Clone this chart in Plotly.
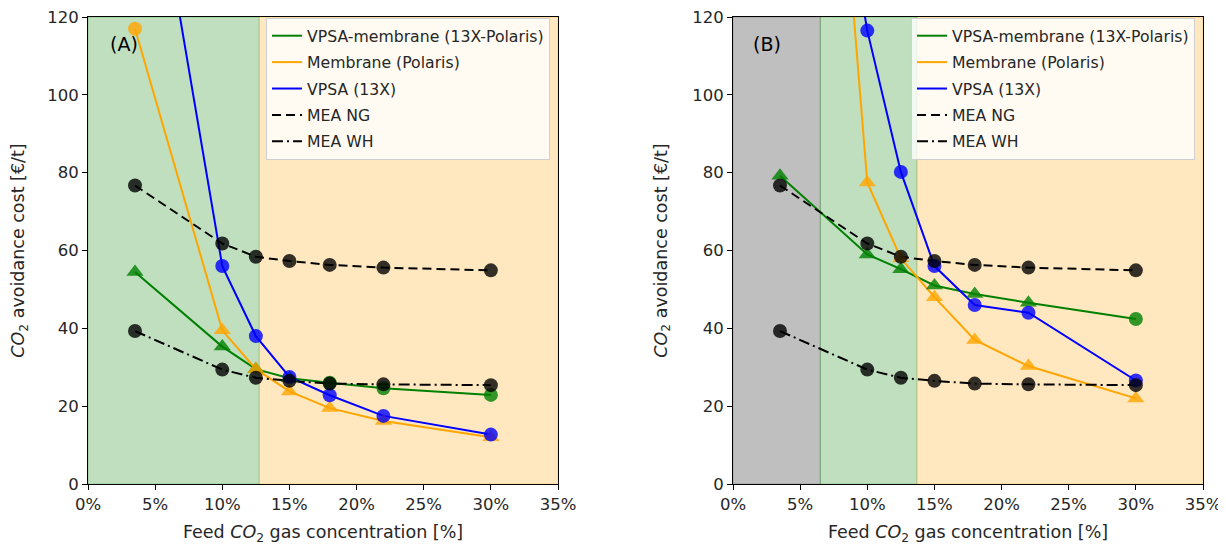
import plotly.graph_objects as go

# ---------------- data ----------------
conc = [3.5, 10, 12.5, 15, 18, 22, 30]  # feed CO2 concentration [%]

mea_ng = [76.7, 61.8, 58.4, 57.3, 56.3, 55.6, 54.9]
mea_wh = [39.3, 29.4, 27.3, 26.5, 25.8, 25.6, 25.4]

# Panel A
hyb_A = [54.5, 35.3, 29.5, 27.2, 26.0, 24.6, 22.9]
hyb_A_sym = ["triangle-up", "triangle-up", "triangle-up", "triangle-up", "circle", "circle", "circle"]
mem_A = [117.0, 39.5, 29.5, 23.8, 19.5, 16.2, 12.0]
mem_A_sym = ["circle", "triangle-up", "triangle-up", "triangle-up", "triangle-up", "triangle-up", "triangle-up"]
vpsa_A = [188.0, 56.0, 38.0, 27.5, 22.8, 17.5, 12.7]

# Panel B
hyb_B = [79.2, 59.0, 55.2, 51.0, 48.8, 46.6, 42.4]
hyb_B_sym = ["triangle-up"] * 6 + ["circle"]
mem_B = [354.0, 77.5, 58.0, 48.0, 37.0, 30.3, 22.0]
mem_B_sym = ["triangle-up"] * 7
vpsa_B = [250.0, 116.5, 80.2, 56.0, 46.0, 44.0, 26.6]

x_ticks = [0, 5, 10, 15, 20, 25, 30, 35]
x_tick_text = ["0%", "5%", "10%", "15%", "20%", "25%", "30%", "35%"]
y_ticks = [0, 20, 40, 60, 80, 100, 120]

# shaded regions [x0, x1, colour]
regions_A = [(0, 12.75, "rgba(0,128,0,0.25)"), (12.75, 35, "rgba(255,165,0,0.25)")]
regions_B = [(0, 6.5, "rgba(128,128,128,0.5)"), (6.5, 13.7, "rgba(0,128,0,0.25)"),
             (13.7, 35, "rgba(255,165,0,0.25)")]

names = ["VPSA-membrane (13X-Polaris)", "Membrane (Polaris)", "VPSA (13X)", "MEA NG", "MEA WH"]

GREEN = "rgb(0,128,0)"
ORANGE = "rgb(255,165,0)"
BLUE = "rgb(0,0,255)"
BLACK = "black"

fig = go.Figure()
FONT = "DejaVu Sans"
TXT = "#262626"


def add_panel(xa, ya, legend, hyb, hyb_sym, mem, mem_sym, vpsa):
    series = [
        (hyb, GREEN, "solid"),
        (mem, ORANGE, "solid"),
        (vpsa, BLUE, "solid"),
        (mea_ng, BLACK, "9px,5px"),
        (mea_wh, BLACK, "11px,4px,2px,4px"),
    ]
    for i, (vals, col, dash) in enumerate(series):
        fig.add_trace(go.Scatter(
            x=conc, y=vals, mode="lines", name=names[i],
            line=dict(color=col, width=2, dash=dash),
            xaxis=xa, yaxis=ya, legend=legend, legendgroup=legend + str(i),
            showlegend=True, cliponaxis=True))
    marks = [
        (hyb, GREEN, hyb_sym),
        (mem, ORANGE, mem_sym),
        (vpsa, BLUE, ["circle"] * 7),
        (mea_ng, BLACK, ["circle"] * 7),
        (mea_wh, BLACK, ["circle"] * 7),
    ]
    for vals, col, sym in marks:
        fig.add_trace(go.Scatter(
            x=conc, y=vals, mode="markers", showlegend=False,
            marker=dict(color=col, size=[15 if s.startswith("tri") else 14 for s in sym],
                        symbol=sym, opacity=0.8, line=dict(width=0)),
            xaxis=xa, yaxis=ya, hoverinfo="skip", cliponaxis=True))


add_panel("x", "y", "legend", hyb_A, hyb_A_sym, mem_A, mem_A_sym, vpsa_A)
add_panel("x2", "y2", "legend2", hyb_B, hyb_B_sym, mem_B, mem_B_sym, vpsa_B)

shapes = []
for xr, yr, regs in (("x", "y", regions_A), ("x2", "y2", regions_B)):
    for x0, x1, col in regs:
        shapes.append(dict(type="rect", xref=xr, yref=yr, x0=x0, x1=x1, y0=0, y1=120,
                           fillcolor=col, line=dict(width=1, color=col), layer="below"))

# page body has an 8px margin -> figure origin sits at (8, 8)
OFF = 8
W, H = 1226 - OFF, 545 - OFF
ML, MT = 88 - OFF, 17 - OFF
MR = W - (1203 - OFF)
MB = H - (484 - OFF)
PW = W - ML - MR
PH = H - MT - MB
xdomA = [0, 470 / PW]
xdomB = [645 / PW, 1]

axis_common = dict(showline=True, mirror=True, linecolor="black", linewidth=1,
                   ticks="outside", ticklen=5, tickcolor="black", showgrid=False,
                   zeroline=False, automargin=False, ticklabeloverflow="allow",
                   tickfont=dict(size=16.5, color=TXT, family=FONT))

ytitle = "<i>CO</i><sub>2</sub> avoidance cost [€/t]"
xtitle = "Feed <i>CO</i><sub>2</sub> gas concentration [%]"

xaxis_cfg = dict(range=[0, 35], tickvals=x_ticks, ticktext=x_tick_text,
                 title=dict(text=xtitle, font=dict(size=17.5, color=TXT, family=FONT), standoff=13),
                 **axis_common)
yaxis_cfg = dict(range=[0, 120], tickvals=y_ticks,
                 title=dict(text=ytitle, font=dict(size=17.5, color=TXT, family=FONT), standoff=20),
                 **axis_common)

legend_common = dict(bgcolor="rgba(255,255,255,0.8)", bordercolor="#d0d0d0", borderwidth=1,
                     font=dict(size=15.7, color=TXT, family=FONT), xanchor="right",
                     yanchor="top", traceorder="grouped", tracegroupgap=3)

fig.update_layout(
    width=W, height=H, margin=dict(l=ML, r=MR, t=MT, b=MB, autoexpand=False),
    paper_bgcolor="white", plot_bgcolor="white",
    font=dict(family=FONT, color=TXT),
    xaxis=dict(domain=xdomA, anchor="y", **xaxis_cfg),
    yaxis=dict(domain=[0, 1], anchor="x", **yaxis_cfg),
    xaxis2=dict(domain=xdomB, anchor="y2", **xaxis_cfg),
    yaxis2=dict(domain=[0, 1], anchor="x2", **yaxis_cfg),
    legend=dict(x=(550 - 88) / PW, y=1 - (18 - 17) / PH, **legend_common),
    legend2=dict(x=(1195 - 88) / PW, y=1 - (18 - 17) / PH, **legend_common),
    shapes=shapes,
    annotations=[
        dict(text="(A)", xref="x", yref="y", x=2.7, y=113, showarrow=False,
             font=dict(size=19, color="black", family=FONT)),
        dict(text="(B)", xref="x2", yref="y2", x=2.5, y=113, showarrow=False,
             font=dict(size=19, color="black", family=FONT)),
    ],
    showlegend=True,
)

fig.write_html("out.html")
